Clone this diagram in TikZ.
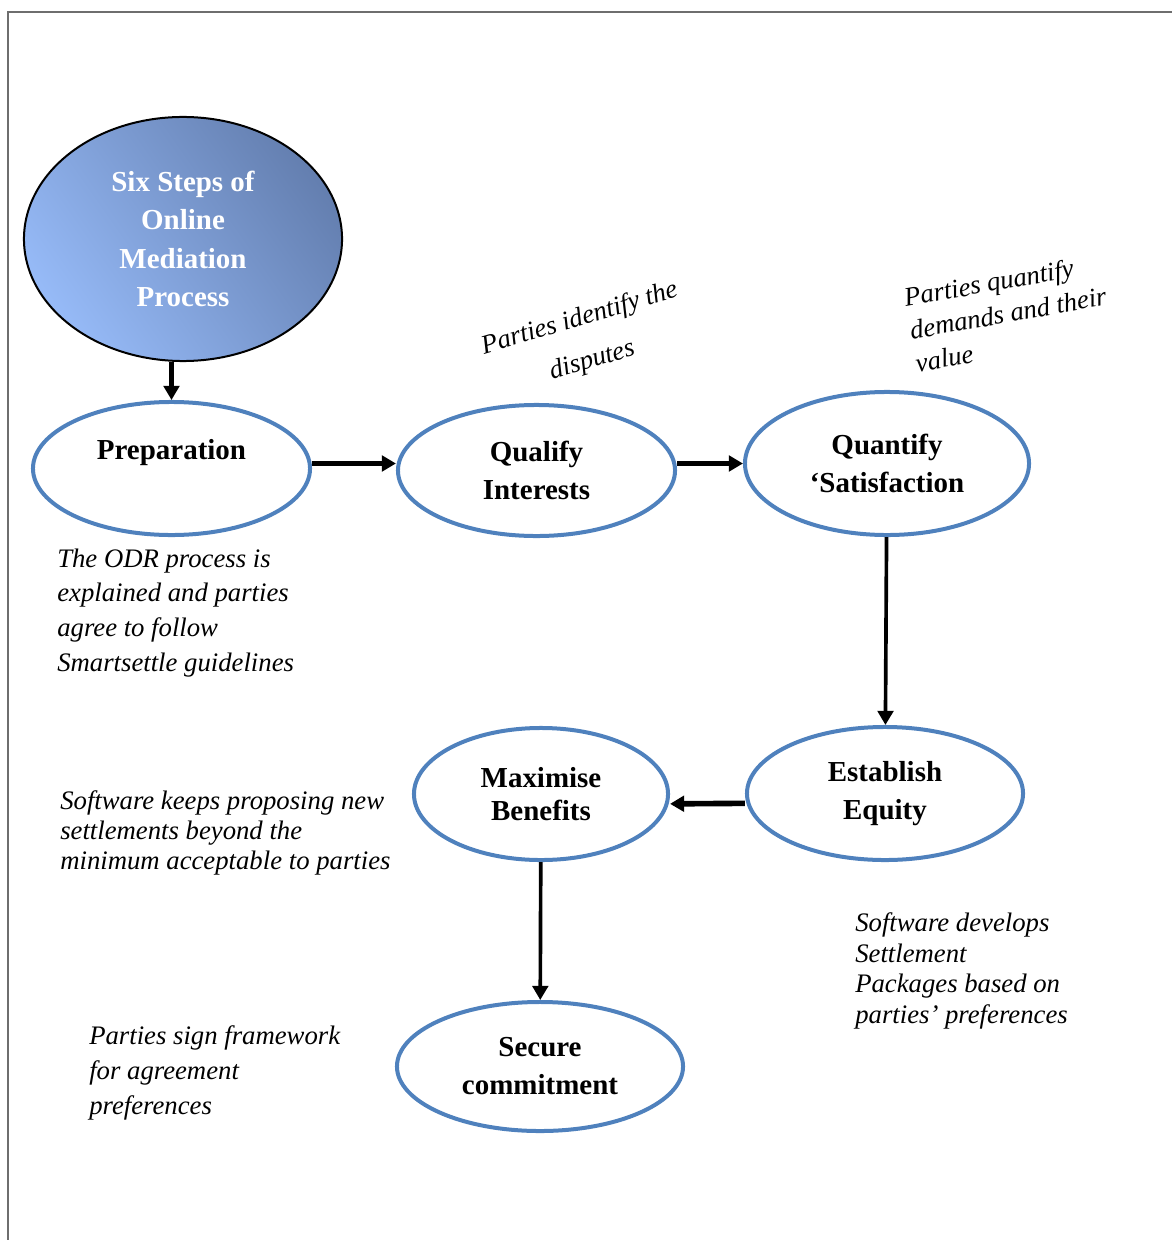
\documentclass[tikz,border=0pt]{standalone}
\usepackage{fontspec}
\setmainfont{Liberation Serif}
\usetikzlibrary{positioning}
\usetikzlibrary{shapes.geometric}
\usetikzlibrary{arrows.meta}

\definecolor{stepblue}{RGB}{79,129,189}
\definecolor{titlelight}{RGB}{150,186,247}
\definecolor{titledark}{RGB}{100,127,176}
\definecolor{framegray}{RGB}{110,110,110}

\tikzset{
  stepnode/.style = {ellipse, draw=stepblue, line width=0.1cm, inner sep=0pt,
    align=center, font=\fontsize{20.6}{27}\selectfont\bfseries},
  titlenode/.style = {ellipse, draw=black, line width=0.05cm, inner sep=0pt,
    left color=titlelight, right color=titledark, shading angle=125,
    text=white, align=center, font=\fontsize{20.6}{27.4}\selectfont\bfseries},
  notetext/.style = {inner sep=0pt, align=left,
    font=\fontsize{19}{24.8}\selectfont\itshape},
  arr/.style = {line width=3pt, -{Triangle[length=10pt,width=11pt]}},
}

\begin{document}
\begin{tikzpicture}[x=0.025cm, y=-0.025cm]
  \useasboundingbox (0,0) rectangle (1172,1240);
  \draw[framegray, line width=1pt] (8,1240) -- (8,12) -- (1172,12);

  \node[titlenode, minimum width=7.95cm, minimum height=6.1cm] (title) at (183,239)
    {Six Steps of\\Online\\Mediation\\Process};

  \node[stepnode, minimum width=6.925cm, minimum height=3.325cm] (prep) at (171.5,468.5)
    {Preparation\\\phantom{P}};
  \node[stepnode, minimum width=6.925cm, minimum height=3.275cm] (qual) at (536.5,470.5)
    {Qualify\\Interests};
  \node[stepnode, minimum width=7.1cm, minimum height=3.575cm] (quant) at (887,463.5)
    {Quantify\\‘Satisfaction};
  \node[stepnode, minimum width=6.9cm, minimum height=3.325cm] (estab) at (885,793.5)
    {\rule{0pt}{6pt}Establish\\Equity};
  \node[stepnode, minimum width=6.35cm, minimum height=3.3cm,
    font=\fontsize{20.6}{24}\selectfont\bfseries] (maxi) at (541,794)
    {Maximise\\Benefits};
  \node[stepnode, minimum width=7.15cm, minimum height=3.225cm] (secure) at (540,1066.5)
    {Secure\\commitment};

  \draw[arr] (title.south -| prep) -- (prep.north);
  \draw[arr] (prep.east |- quant.west) -- (qual.west |- quant.west);
  \draw[arr] (qual.east |- quant.west) -- (quant.west);
  \draw[arr, line width=2.6pt] (quant) -- (estab);
  \draw[arr, line width=4pt] ([yshift=-7pt]estab.west) -- ([yshift=-7pt]maxi.east);
  \draw[arr, line width=2.6pt] (maxi) -- (secure);

  \node[notetext, align=center, rotate=16.6,
    font=\fontsize{19}{31}\selectfont\itshape] (disputenote) at (586,340)
    {Parties identify the\\disputes};
  \node[notetext, rotate=10,
    font=\fontsize{19}{23.7}\selectfont\itshape] (valuenote) at (1008,313)
    {Parties quantify\\demands and their\\value};
  \node[notetext, anchor=west] (prepnote) at (57,613)
    {The ODR process is\\explained and parties\\agree to follow\\Smartsettle guidelines};
  \node[notetext, anchor=west,
    font=\fontsize{19}{21.6}\selectfont\itshape] (maxinote) at (60,833)
    {Software keeps proposing new\\settlements beyond the\\minimum acceptable to parties};
  \node[notetext, anchor=west,
    font=\fontsize{19}{21.8}\selectfont\itshape] (estabnote) at (855,971)
    {Software develops\\Settlement\\Packages based on\\parties’ preferences};
  \node[notetext, anchor=west] (securenote) at (89,1073)
    {Parties sign framework\\for agreement\\preferences};
\end{tikzpicture}
\end{document}
